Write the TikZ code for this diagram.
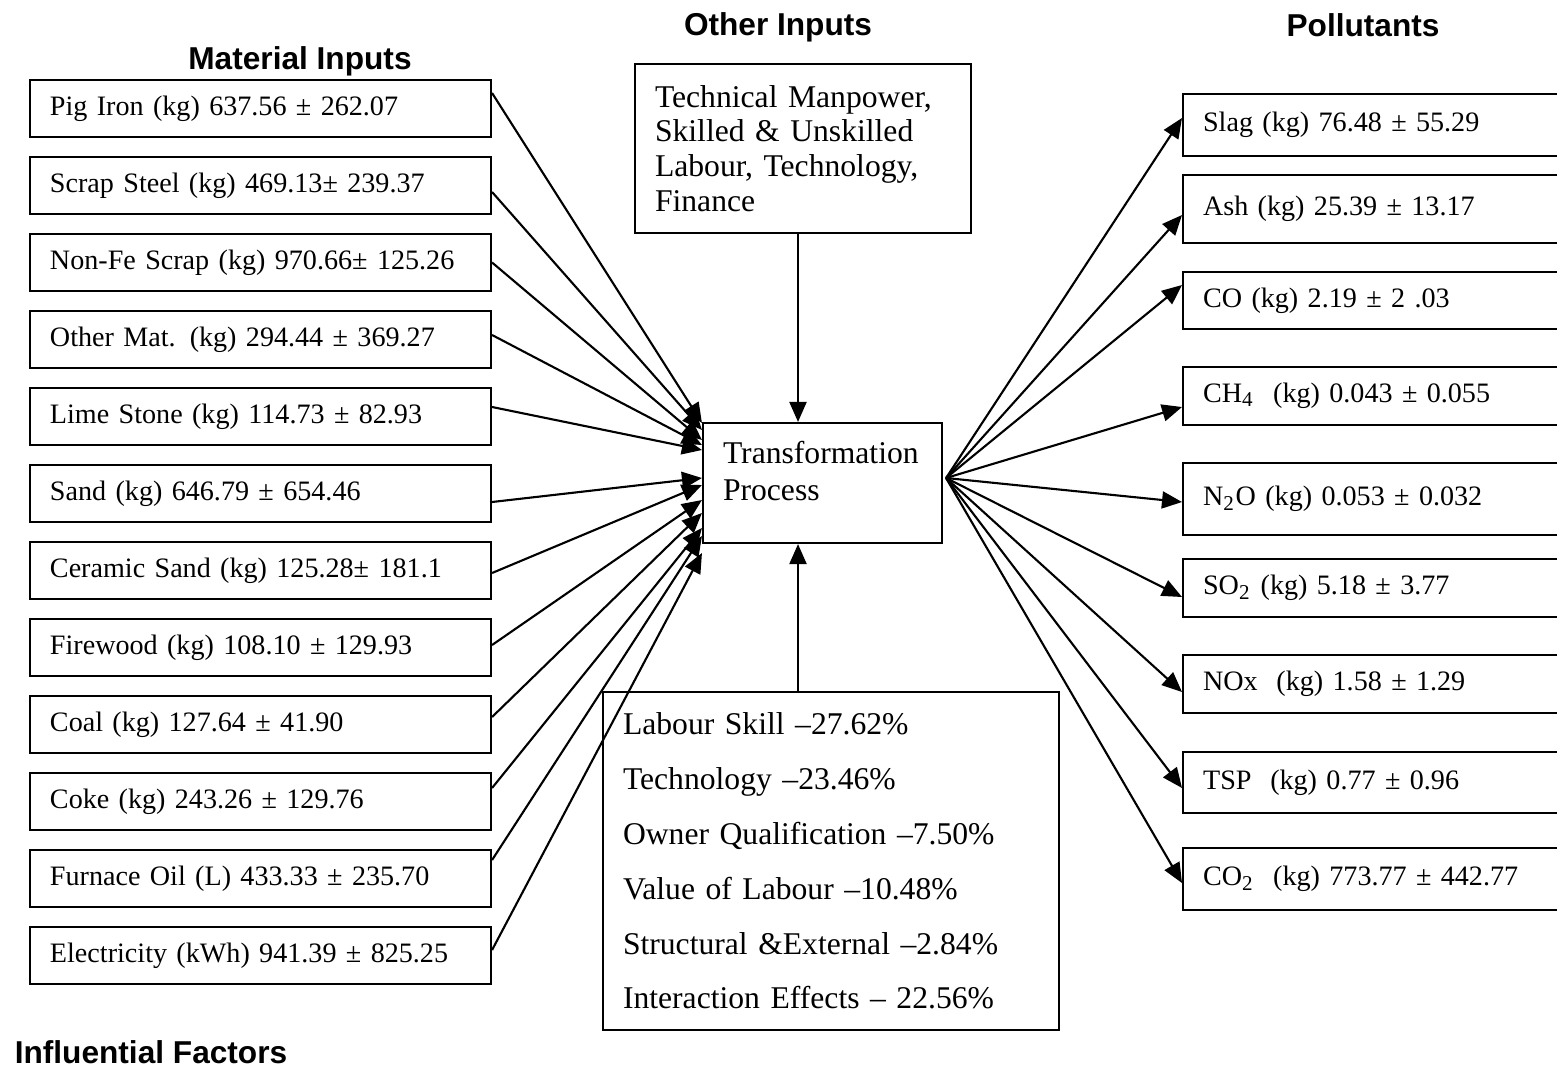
\documentclass[tikz,border=0pt]{standalone}
\usepackage{fontspec}
\setmainfont{Liberation Serif}
\setsansfont{Liberation Sans}
\usetikzlibrary{arrows.meta,calc}

\begin{document}
\begin{tikzpicture}[>={Triangle[length=0.2cm,width=0.17cm]}, line width=0.6pt,
  matbox/.style={draw, text width=4.21cm, inner xsep=0.2cm, inner ysep=0pt,
    minimum height=0.57cm, align=left, font=\fontsize{8}{10}\selectfont},
  polbox/.style={draw, anchor=west, text width=3.78cm, inner xsep=0.2cm, inner ysep=0pt,
    align=left, font=\fontsize{8}{10}\selectfont},
  head/.style={font=\fontsize{9}{10}\selectfont\sffamily\bfseries}]
  \clip (0,0) rectangle (15.57,-10.71);

  % --- headings ---
  \node[head] (hmat) at (3.00,-0.61) {Material Inputs};
  \node[head] (hoth) at (7.78,-0.27) {Other Inputs};
  \node[head] (hpol) at (13.63,-0.25) {Pollutants};
  \node[head, anchor=west] (hinf) at (0.02,-10.52) {Influential Factors};

  % --- material inputs ---
  \node[matbox] (m1) at (2.605,-1.085) {Pig Iron (kg) 637.56 ± 262.07};
  \node[matbox] (m2) at (2.605,-1.855) {Scrap Steel (kg) 469.13± 239.37};
  \node[matbox] (m3) at (2.605,-2.625) {\mbox{Non-Fe Scrap (kg) 970.66± 125.26}};
  \node[matbox] (m4) at (2.605,-3.395) {Other Mat. (kg) 294.44 ± 369.27};
  \node[matbox] (m5) at (2.605,-4.165) {Lime Stone (kg) 114.73 ± 82.93};
  \node[matbox] (m6) at (2.605,-4.935) {Sand (kg) 646.79 ± 654.46};
  \node[matbox] (m7) at (2.605,-5.705) {Ceramic Sand (kg) 125.28± 181.1};
  \node[matbox] (m8) at (2.605,-6.475) {Firewood (kg) 108.10 ± 129.93};
  \node[matbox] (m9) at (2.605,-7.245) {Coal (kg) 127.64 ± 41.90};
  \node[matbox] (m10) at (2.605,-8.015) {Coke (kg) 243.26 ± 129.76};
  \node[matbox] (m11) at (2.605,-8.785) {Furnace Oil (L) 433.33 ± 235.70};
  \node[matbox] (m12) at (2.605,-9.555) {Electricity (kWh) 941.39 ± 825.25};

  % --- centre ---
  \node[draw, inner xsep=0.2cm, inner ysep=0pt, font=\fontsize{9}{10.5}\selectfont] (tp) at (8.225,-4.83)
    {\parbox[c][1.2cm][t]{1.99cm}{\raggedright\vspace*{0.18cm}Transformation\\Process}};
  \node[draw, text width=2.96cm, inner xsep=0.2cm, minimum height=1.69cm, align=left,
    font=\fontsize{9}{9.9}\selectfont] (oth) at (8.03,-1.485)
    {Technical Manpower, Skilled \& Unskilled Labour, Technology, Finance};
  \node[draw, text width=4.16cm, inner xsep=0.2cm, minimum height=3.38cm, align=left,
    font=\fontsize{9}{15.6}\selectfont] (fac) at (8.31,-8.61)
    {Labour Skill --27.62\%\\
     Technology --23.46\%\\
     Owner Qualification --7.50\%\\
     Value of Labour --10.48\%\\
     Structural \&External --2.84\%\\
     Interaction Effects -- 22.56\%};
  \coordinate (vx) at (7.98,0);
  \draw[->] (oth.south -| vx) -- (tp.north -| vx);
  \draw[->] (fac.north -| vx) -- (tp.south -| vx);

  % --- pollutants ---
  \node[polbox, minimum height=0.62cm] (p1) at (11.82,-1.25) {Slag (kg) 76.48 ± 55.29};
  \node[polbox, minimum height=0.68cm] (p2) at (11.82,-2.09) {Ash (kg) 25.39 ± 13.17};
  \node[polbox, minimum height=0.57cm] (p3) at (11.82,-3.005) {CO (kg) 2.19 ± 2 .03};
  \node[polbox, minimum height=0.58cm] (p4) at (11.82,-3.96) {CH\textsubscript{4}\ \ (kg) 0.043 ± 0.055};
  \node[polbox, minimum height=0.72cm] (p5) at (11.82,-4.99) {N\textsubscript{2}O (kg) 0.053 ± 0.032};
  \node[polbox, minimum height=0.58cm] (p6) at (11.82,-5.88) {SO\textsubscript{2} (kg) 5.18 ± 3.77};
  \node[polbox, minimum height=0.58cm] (p7) at (11.82,-6.84) {NOx\ \ (kg) 1.58 ± 1.29};
  \node[polbox, minimum height=0.61cm] (p8) at (11.82,-7.825) {TSP\ \ (kg) 0.77 ± 0.96};
  \node[polbox, minimum height=0.62cm] (p9) at (11.82,-8.79) {CO\textsubscript{2}\ \ (kg) 773.77 ± 442.77};

  % --- inputs into the process ---
  \draw[->] ($(m1.east)+(0,0.155)$) -- ($(tp.west)+(0,0.60)$);
  \draw[->] ($(m2.east)+(0,-0.065)$) -- ($(tp.west)+(0,0.53)$);
  \draw[->] (m3.east) -- ($(tp.west)+(0,0.43)$);
  \draw[->] ($(m4.east)+(0,0.045)$) -- ($(tp.west)+(0,0.38)$);
  \draw[->] ($(m5.east)+(0,0.095)$) -- ($(tp.west)+(0,0.33)$);
  \draw[->] ($(m6.east)+(0,-0.085)$) -- ($(tp.west)+(0,0.05)$);
  \draw[->] ($(m7.east)+(0,-0.025)$) -- ($(tp.west)+(0,-0.02)$);
  \draw[->] ($(m8.east)+(0,0.025)$) -- ($(tp.west)+(0,-0.17)$);
  \draw[->] ($(m9.east)+(0,0.075)$) -- ($(tp.west)+(0,-0.30)$);
  \draw[->] ($(m10.east)+(0,0.135)$) -- ($(tp.west)+(0,-0.45)$);
  \draw[->] ($(m11.east)+(0,0.185)$) -- ($(tp.west)+(0,-0.53)$);
  \draw[->] ($(m12.east)+(0,0.055)$) -- ($(tp.west)+(0,-0.70)$);

  % --- outputs ---
  \coordinate (hub) at ($(tp.east)+(0.03,0.05)$);
  \draw[->] (hub) -- ($(p1.west)+(0,0.07)$);
  \draw[->] (hub) -- ($(p2.west)+(0,-0.06)$);
  \draw[->] (hub) -- ($(p3.west)+(0,0.155)$);
  \draw[->] (hub) -- ($(p4.west)+(0,-0.11)$);
  \draw[->] (hub) -- ($(p5.west)+(0,-0.03)$);
  \draw[->] (hub) -- ($(p6.west)+(0,-0.09)$);
  \draw[->] (hub) -- ($(p7.west)+(0,-0.08)$);
  \draw[->] (hub) -- ($(p8.west)+(0,-0.055)$);
  \draw[->] (hub) -- ($(p9.west)+(0,-0.04)$);
\end{tikzpicture}
\end{document}
